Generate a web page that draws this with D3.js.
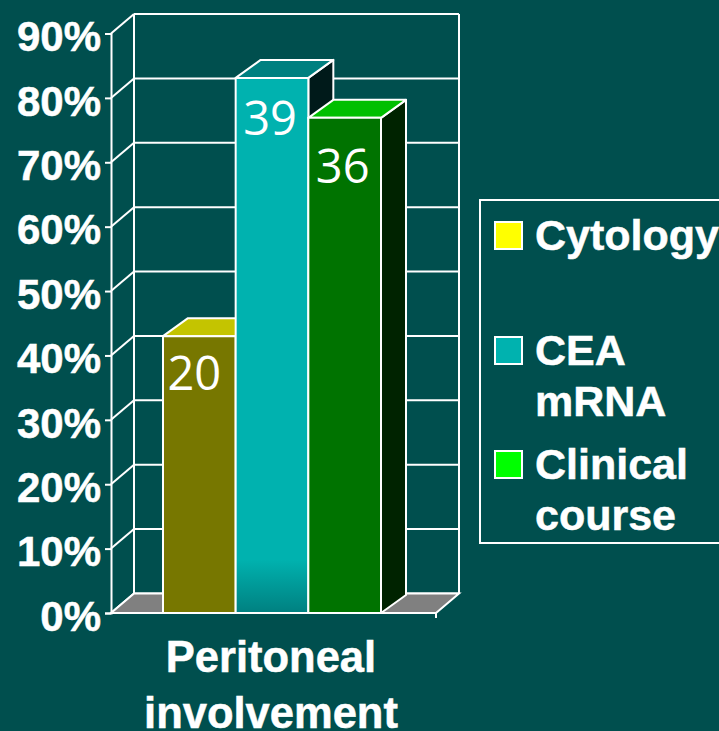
<!DOCTYPE html>
<html>
<head>
<meta charset="utf-8">
<script src="https://cdn.jsdelivr.net/npm/d3@7"></script>
<style>
  html, body { margin: 0; padding: 0; background: #004f4e; overflow: hidden; }
  text { font-family: "Liberation Sans", Arial, sans-serif; font-weight: bold; fill: #fff; stroke: #fff; stroke-width: 0.5px; }
  .value { font-family: "Open Sans", sans-serif; font-weight: normal; stroke: none; }
</style>
</head>
<body>
<div id="chart"></div>
<script>
var categories = ['Peritoneal', 'involvement'];
var seriesNames = ['Cytology', 'CEA mRNA', 'Clinical course'];
var percents = [43, 83.1, 76.9];
var counts = [20, 39, 36];
var yTicks = [0, 10, 20, 30, 40, 50, 60, 70, 80, 90];

var frontColors = ['#777700', '#00b2af', '#007300'];
var topColors = ['#c4c400', '#008080', '#00bf00'];
var sideColors = ['#3c3c00', '#001a1a', '#002300'];
var legendColors = ['#ffff00', '#00b2af', '#00ff00'];
var legendLines = [['Cytology'], ['CEA', 'mRNA'], ['Clinical', 'course']];

var width = 719, height = 731;
var stroke = '#fff';

var svg = d3.select('#chart').append('svg')
    .attr('width', width)
    .attr('height', height)
    .style('display', 'block');

// front plane of the chart
var y = d3.scaleLinear().domain([0, 90]).range([613, 33.5]);
var xFront = d3.scaleLinear().domain([0, 1]).range([111, 436]);
var xBars = d3.scaleBand().domain(seriesNames).range([163, 381]);

// offset of the back wall from the front plane, and depth of the bars
var wall = {dx: 23, dy: -19.5};
var depth = {dx: 25, dy: -18};

// the value labels are not placed the same way on each bar in the original
var labelDx = [-5, -2, -2];
var labelDy = [54, 57, 65];

const line = d3.line();

// back wall with its gridlines
const gWall = svg.append('g').attr('id', 'g-wall');

gWall.selectAll('.grid').data(yTicks).enter().append('line')
    .attr('class', 'grid')
    .attr('x1', xFront(0) + wall.dx)
    .attr('x2', xFront(1) + wall.dx)
    .attr('y1', function(d) { return y(d) + wall.dy; })
    .attr('y2', function(d) { return y(d) + wall.dy; })
    .attr('stroke', stroke)
    .attr('stroke-width', 2);

// side wall, the slanted part of every gridline
gWall.selectAll('.slant').data(yTicks).enter().append('line')
    .attr('class', 'slant')
    .attr('x1', xFront(0))
    .attr('x2', xFront(0) + wall.dx)
    .attr('y1', function(d) { return y(d); })
    .attr('y2', function(d) { return y(d) + wall.dy; })
    .attr('stroke', stroke)
    .attr('stroke-width', 2);

[xFront(0) + wall.dx, xFront(1) + wall.dx].forEach(function(x) {
    gWall.append('line')
        .attr('x1', x).attr('x2', x)
        .attr('y1', y(90) + wall.dy).attr('y2', y(0) + wall.dy)
        .attr('stroke', stroke)
        .attr('stroke-width', 2);
});

// floor
gWall.append('path')
    .attr('d', line([
        [xFront(0), y(0)],
        [xFront(0) + wall.dx, y(0) + wall.dy],
        [xFront(1) + wall.dx, y(0) + wall.dy],
        [xFront(1), y(0)]
    ]) + 'Z')
    .attr('fill', '#808080')
    .attr('stroke', stroke)
    .attr('stroke-width', 2);

// the teal bar fades out towards the floor
const defs = svg.append('defs');
const fade = defs.append('linearGradient')
    .attr('id', 'cea-fade')
    .attr('x1', 0).attr('x2', 0).attr('y1', 0).attr('y2', 1);
fade.append('stop').attr('offset', '0.9').attr('stop-color', frontColors[1]);
fade.append('stop').attr('offset', '1').attr('stop-color', '#008080');

// bars, left to right so each one covers the side of the one before
const gBars = svg.append('g').attr('id', 'g-bars');

seriesNames.forEach(function(name, i) {
    var x0 = xBars(name), x1 = x0 + xBars.bandwidth();
    var top = y(percents[i]), base = y(0);
    var g = gBars.append('g');

    g.append('path')
        .attr('d', line([[x1, top], [x1 + depth.dx, top + depth.dy], [x1 + depth.dx, base + depth.dy], [x1, base]]) + 'Z')
        .attr('fill', sideColors[i]);
    g.append('path')
        .attr('d', line([[x0, top], [x0 + depth.dx, top + depth.dy], [x1 + depth.dx, top + depth.dy], [x1, top]]) + 'Z')
        .attr('fill', topColors[i]);
    g.append('rect')
        .attr('x', x0).attr('y', top)
        .attr('width', x1 - x0).attr('height', base - top)
        .attr('fill', i === 1 ? 'url(#cea-fade)' : frontColors[i]);

    g.selectAll('path, rect')
        .attr('stroke', stroke)
        .attr('stroke-width', 2)
        .attr('stroke-linejoin', 'round');

    g.append('text')
        .attr('class', 'value')
        .attr('x', (x0 + x1) / 2 + labelDx[i])
        .attr('y', top + labelDy[i])
        .attr('text-anchor', 'middle')
        .style('font-size', '47px')
        .text(counts[i]);
});

// front axes
const yAxis = d3.axisLeft(y)
    .tickValues(yTicks)
    .tickSize(6)
    .tickPadding(4)
    .tickFormat(function(d) { return d + '%'; });

const gY = svg.append('g')
    .attr('transform', 'translate(' + xFront(0) + ',0)')
    .call(yAxis);
gY.selectAll('line, path').attr('stroke', stroke).attr('stroke-width', 2);
gY.selectAll('text').style('font-size', '42px').attr('fill', '#fff').attr('dy', '0.41em');

svg.append('line')
    .attr('x1', xFront(0)).attr('x2', xFront(1))
    .attr('y1', y(0)).attr('y2', y(0))
    .attr('stroke', stroke).attr('stroke-width', 2);
svg.append('line')
    .attr('x1', xFront(1)).attr('x2', xFront(1))
    .attr('y1', y(0)).attr('y2', y(0) + 5)
    .attr('stroke', stroke).attr('stroke-width', 2);

// category label
svg.selectAll('.category').data(categories).enter().append('text')
    .attr('class', 'category')
    .attr('x', 271)
    .attr('y', function(d, i) { return 672 + i * 56; })
    .attr('text-anchor', 'middle')
    .style('font-size', '43.5px')
    .text(function(d) { return d; });

// legend
svg.append('rect')
    .attr('x', 480).attr('y', 200)
    .attr('width', 260).attr('height', 343)
    .attr('fill', 'none')
    .attr('stroke', stroke)
    .attr('stroke-width', 2);

var swatchTops = [222, 337, 451];

seriesNames.forEach(function(name, i) {
    svg.append('rect')
        .attr('x', 495).attr('y', swatchTops[i])
        .attr('width', 27).attr('height', 27)
        .attr('fill', legendColors[i])
        .attr('stroke', stroke)
        .attr('stroke-width', 2);
    legendLines[i].forEach(function(t, j) {
        svg.append('text')
            .attr('x', 535)
            .attr('y', swatchTops[i] + 28 + j * 51)
            .style('font-size', '43px')
            .text(t);
    });
});
</script>
</body>
</html>
